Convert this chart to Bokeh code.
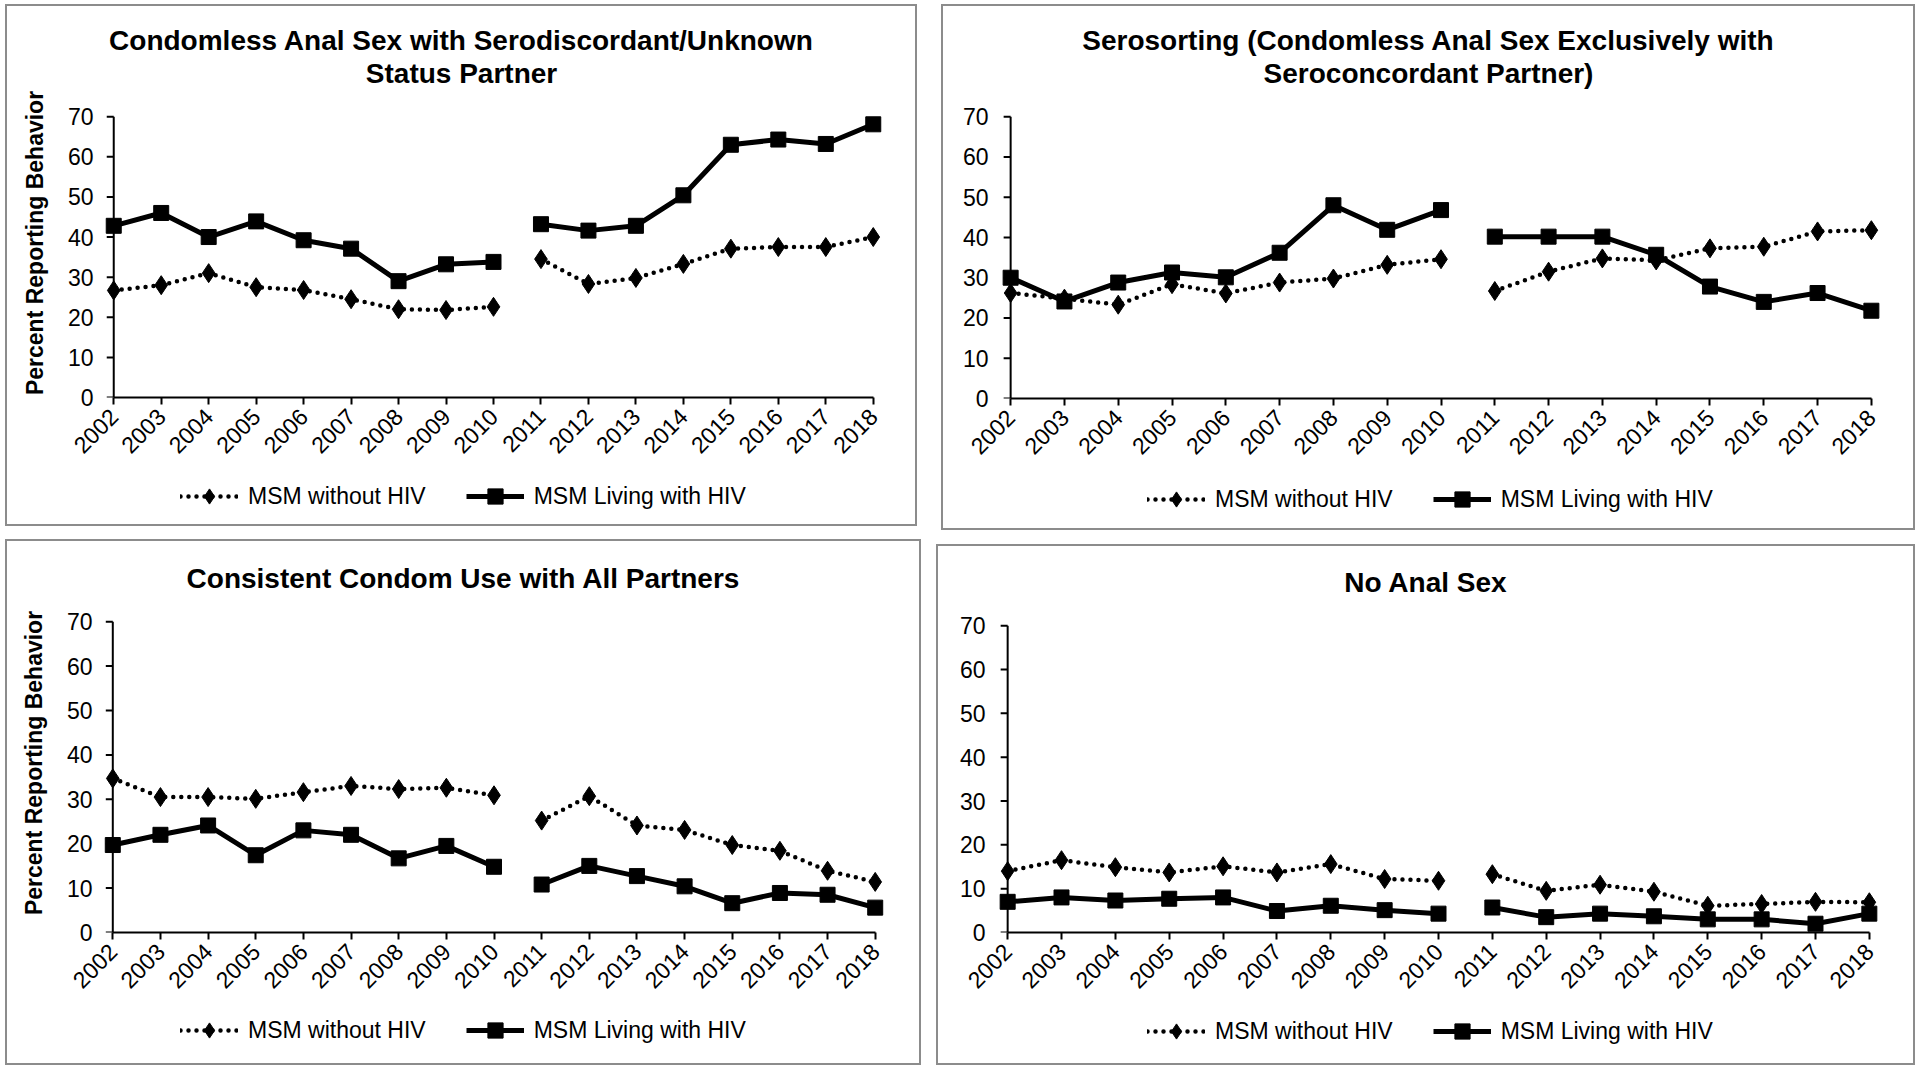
import numpy as np
from bokeh.plotting import figure
from bokeh.models import Range1d, FixedTicker, Legend, LegendItem, Spacer, Title
from bokeh.layouts import row, column
from bokeh.embed import file_html
from bokeh.resources import INLINE

# ---------------- data ----------------
years = list(range(2002, 2019))
year_labels = [str(y) for y in years]
y_ticks = [0, 10, 20, 30, 40, 50, 60, 70]
series_labels = ["MSM without HIV", "MSM Living with HIV"]

title_cas = ["Condomless Anal Sex with Serodiscordant/Unknown", "Status Partner"]
title_sero = ["Serosorting (Condomless Anal Sex Exclusively with", "Seroconcordant Partner)"]
title_condom = ["Consistent Condom Use with All Partners"]
title_noanal = ["No Anal Sex"]
y_title = "Percent Reporting Behavior"

cas_neg = [26.7, 28.0, 31.0, 27.5, 26.8, 24.5, 22.0, 21.8, 22.6, 34.5, 28.3, 29.8, 33.3, 37.1, 37.5, 37.5, 40.0]
cas_pos = [42.8, 46.0, 40.0, 43.9, 39.2, 37.1, 29.0, 33.2, 33.8, 43.2, 41.6, 42.8, 50.4, 63.0, 64.3, 63.2, 68.1]

sero_neg = [26.2, 24.8, 23.3, 28.4, 26.1, 28.8, 29.8, 33.2, 34.6, 26.7, 31.5, 34.8, 34.3, 37.3, 37.7, 41.5, 41.8]
sero_pos = [30.0, 24.1, 28.8, 31.3, 30.1, 36.2, 48.0, 41.9, 46.8, 40.2, 40.2, 40.2, 35.7, 27.8, 24.0, 26.2, 21.8]

condom_neg = [34.7, 30.5, 30.5, 30.1, 31.6, 33.0, 32.3, 32.6, 30.9, 25.2, 30.7, 24.1, 23.1, 19.7, 18.4, 13.9, 11.4]
condom_pos = [19.7, 22.0, 24.1, 17.4, 23.0, 22.0, 16.7, 19.5, 14.8, 10.8, 15.0, 12.7, 10.4, 6.6, 8.9, 8.5, 5.6]

noanal_neg = [14.0, 16.5, 14.9, 13.7, 15.1, 13.7, 15.6, 12.2, 11.8, 13.3, 9.5, 10.9, 9.3, 6.1, 6.5, 7.0, 6.9]
noanal_pos = [7.0, 8.0, 7.3, 7.7, 8.0, 4.9, 6.1, 5.1, 4.3, 5.7, 3.5, 4.3, 3.7, 3.0, 3.0, 2.0, 4.3]

BREAK = 9  # survey gap between 2010 and 2011

# ---------------- styling / layout ----------------
FONT = "Liberation Sans"
BORDER = "2px solid #8c8c8c"
PAD = 0.3           # years of padding left/right of the data
TITLE_PX = 28
TITLE_GAP = 28      # px between 70-line and bottom of the lowest title line

# Arial/Liberation Sans Bold advance widths (1/1000 em), used to centre titles on the panel
BOLD_W = {" ": 278, "(": 333, ")": 333, "/": 278, "A": 722, "C": 722, "E": 667, "N": 722,
          "P": 667, "S": 667, "U": 722, "a": 556, "c": 556, "d": 611, "e": 556, "g": 611,
          "h": 611, "i": 278, "k": 556, "l": 278, "m": 889, "n": 611, "o": 611, "p": 611,
          "r": 389, "s": 556, "t": 333, "u": 611, "v": 556, "w": 778, "x": 556, "y": 556}


def text_width(s, px):
    return sum(BOLD_W.get(ch, 600) for ch in s) * px / 1000.0


NEG_STYLE = dict(line_color="black", line_width=4.5, line_dash="0 8", line_cap="round")
POS_STYLE = dict(line_color="black", line_width=5, line_join="round")
DIAMOND = dict(marker="diamond", size=19, fill_color="black", line_color="black")
SQUARE = dict(marker="square", size=15, fill_color="black", line_color="black")


def draw_series(p, neg, pos):
    n1 = p.line(years[:BREAK], neg[:BREAK], **NEG_STYLE)
    p.line(years[BREAK:], neg[BREAK:], **NEG_STYLE)
    n3 = p.scatter(years, neg, **DIAMOND)
    s1 = p.line(years[:BREAK], pos[:BREAK], **POS_STYLE)
    p.line(years[BREAK:], pos[BREAK:], **POS_STYLE)
    s3 = p.scatter(years, pos, **SQUARE)
    return (n1, n3), (s1, s3)


def make_chart(title_lines, neg, pos, spec, ylabel=None):
    x0, width, height = spec["x0"], spec["w"], spec["chart_h"]
    left, right, top, bottom = spec["borders"]
    plot_h = spec["plot_h"]          # px between 0 and 70
    y_top = y_ticks[-1] + TITLE_GAP * (y_ticks[-1] - y_ticks[0]) / plot_h
    p = figure(width=width, height=height, output_backend="svg", toolbar_location=None,
               tools="", x_range=Range1d(years[0] - PAD, years[-1] + PAD),
               y_range=Range1d(y_ticks[0], y_top),
               min_border_left=left, min_border_right=right,
               min_border_top=top, min_border_bottom=bottom,
               styles={"border": BORDER, "border-bottom": "none"})
    p.outline_line_color = None
    p.xgrid.visible = False
    p.ygrid.visible = False

    frame_left = x0 + 2 + left
    centre = x0 + width / 2.0

    def style_title(t, text):
        t.text = text
        t.text_font = FONT
        t.text_font_size = f"{TITLE_PX}px"
        t.text_font_style = "bold"
        t.text_color = "black"
        t.align = "left"
        t.offset = centre - text_width(text, TITLE_PX) / 2.0 - frame_left
        t.standoff = 0

    # p.title is the outermost line; extra titles stack outward from the frame
    style_title(p.title, title_lines[0])
    for line in reversed(title_lines[1:]):
        t = Title()
        style_title(t, line)
        p.add_layout(t, "above")

    xa = p.xaxis[0]
    xa.axis_line_color = "black"
    xa.axis_line_width = 2
    xa.major_tick_line_color = "black"
    xa.major_tick_line_width = 2
    xa.major_tick_in = 0
    xa.major_tick_out = 7
    xa.minor_tick_line_color = None
    xa.major_label_text_font = FONT
    xa.major_label_text_font_size = "23px"
    xa.major_label_text_color = "black"
    xa.ticker = FixedTicker(ticks=years)
    xa.major_label_overrides = {y: s for y, s in zip(years, year_labels)}
    xa.bounds = (years[0], years[-1])
    xa.major_label_orientation = np.pi / 4
    xa.major_label_standoff = 8

    ya = p.yaxis[0]
    ya.axis_line_color = None
    ya.major_tick_line_color = None
    ya.major_tick_in = 0
    ya.major_tick_out = 0
    ya.minor_tick_line_color = None
    ya.ticker = FixedTicker(ticks=y_ticks)
    ya.major_label_text_font = FONT
    ya.major_label_text_font_size = "23px"
    ya.major_label_text_color = "black"
    ya.major_label_standoff = 6
    if ylabel:
        ya.axis_label = ylabel
        ya.axis_label_text_font = FONT
        ya.axis_label_text_font_size = "23px"
        ya.axis_label_text_font_style = "bold"
        ya.axis_label_text_color = "black"
        ya.axis_label_standoff = 17

    # value axis drawn at the first survey year, 0..70, with outward ticks
    p.segment(x0=[years[0]], y0=[y_ticks[0]], x1=[years[0]], y1=[y_ticks[-1]],
              line_color="black", line_width=2)
    p.ray(x=[years[0]] * len(y_ticks), y=y_ticks, length=7, length_units="screen",
          angle=np.pi, line_color="black", line_width=2)

    draw_series(p, neg, pos)
    return p


def make_legend_fig(neg, pos, spec):
    # the series again, outside this strip's ranges: only the legend is visible
    p = figure(width=spec["w"], height=spec["legend_h"], output_backend="svg",
               toolbar_location=None, tools="", x_range=Range1d(0, 1),
               y_range=Range1d(0, 1), x_axis_type=None, y_axis_type=None, title=None,
               min_border_left=0, min_border_right=0, min_border_top=0,
               min_border_bottom=0,
               styles={"border": BORDER, "border-top": "none"})
    p.outline_line_color = None
    p.xgrid.visible = False
    p.ygrid.visible = False
    (n1, n3), (s1, s3) = draw_series(p, neg, pos)
    legend = Legend(items=[LegendItem(label=series_labels[0], renderers=[n1, n3]),
                           LegendItem(label=series_labels[1], renderers=[s1, s3])],
                    orientation="horizontal", location=spec["legend_loc"],
                    glyph_width=58, glyph_height=38, label_height=38,
                    label_standoff=10, spacing=40, padding=0, margin=0,
                    border_line_color=None, background_fill_alpha=0,
                    label_text_font=FONT, label_text_font_size="23px",
                    label_text_color="black")
    p.add_layout(legend)
    return p


def panel(title_lines, neg, pos, spec, ylabel=None):
    c = make_chart(title_lines, neg, pos, spec, ylabel)
    l = make_legend_fig(neg, pos, spec)
    return column(c, l)


spec_tl = dict(x0=5, w=912, chart_h=471, legend_h=51, borders=(92, 32, 82, 80),
               plot_h=279, legend_loc=(81, 11))
spec_tr = dict(x0=941, w=974, chart_h=474, legend_h=52, borders=(51, 30, 82, 82),
               plot_h=280, legend_loc=(153, 12))
spec_bl = dict(x0=5, w=916, chart_h=470, legend_h=56, borders=(91, 34, 52, 79),
               plot_h=309, legend_loc=(82, 16))
spec_br = dict(x0=936, w=979, chart_h=466, legend_h=55, borders=(53, 32, 51, 80),
               plot_h=305, legend_loc=(156, 15))

tl = panel(title_cas, cas_neg, cas_pos, spec_tl, ylabel=y_title)
tr = panel(title_sero, sero_neg, sero_pos, spec_tr)
bl = panel(title_condom, condom_neg, condom_pos, spec_bl, ylabel=y_title)
br = panel(title_noanal, noanal_neg, noanal_pos, spec_br)

top = row(Spacer(width=5), tl, Spacer(width=24), tr)
bottom = row(Spacer(width=5), bl, Spacer(width=15), column(Spacer(height=5), br))
layout = column(Spacer(height=4), top, Spacer(height=9), bottom)

open("out.html", "w").write(file_html(layout, INLINE))
